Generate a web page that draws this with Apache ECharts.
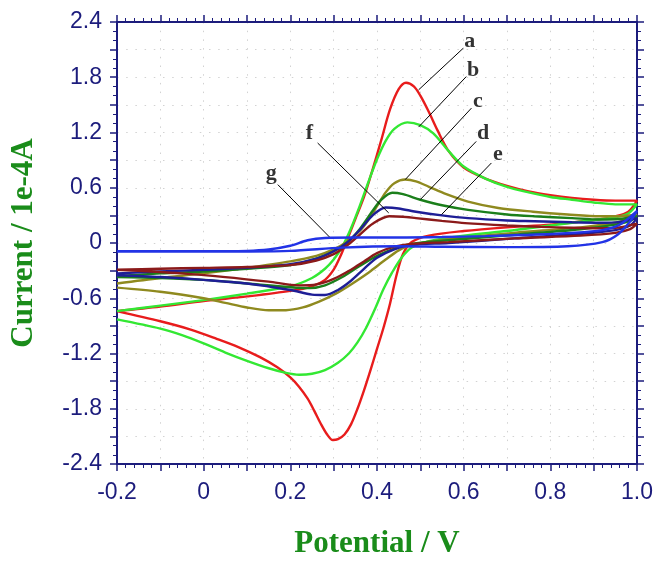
<!DOCTYPE html>
<html>
<head>
<meta charset="utf-8">
<script src="https://cdn.jsdelivr.net/npm/echarts@6/dist/echarts.min.js"></script>
<style>html,body{margin:0;padding:0;background:#fff}#c{width:664px;height:564px}</style>
</head>
<body>
<div id="c"></div>
<script>
// ---- data (Potential V, Current 1e-4 A) ----
const aFwd = [[-0.2,-0.74],[-0.1,-0.69],[0.0,-0.63],[0.1,-0.58],[0.2,-0.52],[0.25,-0.47],[0.28,-0.40],[0.30,-0.29],[0.315,-0.15],[0.33,0.02],[0.35,0.26],[0.37,0.50],[0.39,0.80],[0.41,1.12],[0.43,1.45],[0.45,1.67],[0.467,1.74],[0.485,1.70],[0.50,1.60],[0.52,1.42],[0.54,1.22],[0.565,1.0],[0.60,0.82],[0.65,0.70],[0.70,0.62],[0.75,0.56],[0.80,0.52],[0.85,0.49],[0.90,0.47],[0.95,0.46],[1.0,0.46]];
const aRev = [[1.0,0.46],[0.98,0.34],[0.95,0.29],[0.9,0.25],[0.8,0.20],[0.7,0.17],[0.6,0.13],[0.52,0.08],[0.48,0.01],[0.46,-0.12],[0.445,-0.35],[0.43,-0.66],[0.415,-0.92],[0.40,-1.15],[0.385,-1.38],[0.37,-1.60],[0.355,-1.80],[0.34,-1.97],[0.325,-2.08],[0.31,-2.13],[0.298,-2.14],[0.285,-2.08],[0.27,-1.96],[0.255,-1.82],[0.24,-1.69],[0.22,-1.56],[0.2,-1.46],[0.17,-1.35],[0.13,-1.24],[0.08,-1.13],[0.03,-1.04],[-0.03,-0.94],[-0.1,-0.85],[-0.2,-0.74]];
const bFwd = [[-0.2,-0.74],[-0.1,-0.68],[0.0,-0.62],[0.1,-0.55],[0.2,-0.47],[0.25,-0.38],[0.28,-0.28],[0.30,-0.18],[0.32,-0.04],[0.34,0.16],[0.36,0.40],[0.38,0.66],[0.40,0.91],[0.42,1.11],[0.44,1.24],[0.47,1.31],[0.50,1.28],[0.53,1.19],[0.565,1.0],[0.60,0.83],[0.65,0.70],[0.70,0.61],[0.75,0.55],[0.80,0.50],[0.85,0.47],[0.90,0.44],[0.95,0.42],[1.0,0.42]];
const bRev = [[1.0,0.42],[0.98,0.32],[0.95,0.28],[0.9,0.25],[0.8,0.19],[0.7,0.13],[0.6,0.08],[0.52,0.02],[0.48,-0.05],[0.455,-0.17],[0.435,-0.32],[0.415,-0.50],[0.395,-0.72],[0.375,-0.92],[0.355,-1.08],[0.335,-1.20],[0.31,-1.30],[0.28,-1.38],[0.25,-1.42],[0.22,-1.43],[0.19,-1.41],[0.15,-1.36],[0.1,-1.28],[0.05,-1.19],[0.0,-1.09],[-0.05,-1.0],[-0.1,-0.93],[-0.2,-0.83]];
const cFwd = [[-0.2,-0.44],[-0.1,-0.38],[0.0,-0.33],[0.1,-0.27],[0.2,-0.20],[0.26,-0.14],[0.30,-0.07],[0.33,0.01],[0.36,0.13],[0.38,0.25],[0.40,0.40],[0.42,0.55],[0.44,0.65],[0.465,0.69],[0.49,0.67],[0.52,0.61],[0.56,0.53],[0.61,0.45],[0.68,0.38],[0.76,0.34],[0.84,0.31],[0.915,0.29],[0.96,0.29],[1.0,0.31]];
const cRev = [[1.0,0.31],[0.984,0.27],[0.95,0.22],[0.87,0.17],[0.717,0.11],[0.565,0.04],[0.48,-0.02],[0.45,-0.08],[0.42,-0.18],[0.381,-0.32],[0.34,-0.45],[0.305,-0.55],[0.265,-0.64],[0.229,-0.70],[0.19,-0.73],[0.15,-0.73],[0.1,-0.70],[0.05,-0.65],[0.0,-0.60],[-0.1,-0.53],[-0.2,-0.485]];
const dFwd = [[-0.2,-0.36],[-0.1,-0.33],[0.0,-0.31],[0.1,-0.28],[0.2,-0.24],[0.26,-0.17],[0.30,-0.09],[0.33,0.0],[0.36,0.15],[0.39,0.35],[0.41,0.47],[0.435,0.545],[0.46,0.53],[0.50,0.47],[0.55,0.41],[0.61,0.36],[0.70,0.31],[0.763,0.29],[0.85,0.27],[0.915,0.255],[0.96,0.26],[1.0,0.29]];
const dRev = [[1.0,0.29],[0.984,0.24],[0.95,0.20],[0.87,0.15],[0.717,0.09],[0.565,0.03],[0.48,-0.01],[0.44,-0.06],[0.40,-0.14],[0.36,-0.25],[0.32,-0.37],[0.28,-0.46],[0.245,-0.49],[0.2,-0.48],[0.1,-0.44],[0.0,-0.40],[-0.1,-0.38],[-0.2,-0.37]];
const eFwd = [[-0.2,-0.33],[-0.1,-0.31],[0.0,-0.29],[0.1,-0.27],[0.2,-0.23],[0.26,-0.17],[0.30,-0.09],[0.33,0.0],[0.36,0.14],[0.39,0.30],[0.42,0.385],[0.45,0.375],[0.49,0.34],[0.55,0.30],[0.61,0.27],[0.70,0.245],[0.763,0.237],[0.85,0.225],[0.915,0.22],[0.96,0.23],[1.0,0.27]];
const eRev = [[1.0,0.27],[0.984,0.19],[0.95,0.14],[0.87,0.10],[0.717,0.05],[0.565,0.0],[0.48,-0.02],[0.44,-0.07],[0.40,-0.16],[0.37,-0.28],[0.34,-0.41],[0.31,-0.51],[0.28,-0.565],[0.25,-0.56],[0.2,-0.51],[0.1,-0.44],[0.0,-0.40],[-0.1,-0.37],[-0.2,-0.35]];
const fFwd = [[-0.2,-0.29],[-0.1,-0.28],[0.0,-0.27],[0.1,-0.26],[0.2,-0.24],[0.26,-0.19],[0.30,-0.12],[0.33,-0.03],[0.36,0.09],[0.39,0.21],[0.428,0.29],[0.46,0.285],[0.49,0.27],[0.55,0.24],[0.603,0.216],[0.70,0.19],[0.778,0.175],[0.85,0.165],[0.915,0.16],[0.96,0.17],[1.0,0.21]];
const fRev = [[1.0,0.21],[0.984,0.15],[0.95,0.11],[0.87,0.08],[0.717,0.05],[0.565,0.01],[0.48,-0.01],[0.44,-0.04],[0.40,-0.11],[0.37,-0.20],[0.34,-0.29],[0.30,-0.39],[0.26,-0.45],[0.22,-0.46],[0.15,-0.42],[0.05,-0.37],[-0.05,-0.33],[-0.2,-0.29]];
const gFwd = [[-0.2,-0.09],[0.0,-0.09],[0.1,-0.085],[0.15,-0.07],[0.2,-0.03],[0.24,0.03],[0.28,0.055],[0.35,0.06],[0.45,0.06],[0.55,0.065],[0.65,0.075],[0.75,0.09],[0.85,0.11],[0.92,0.14],[0.96,0.2],[1.0,0.35]];
const gRev = [[1.0,0.35],[0.985,0.24],[0.955,0.09],[0.92,0.01],[0.84,-0.035],[0.7,-0.045],[0.55,-0.04],[0.45,-0.035],[0.32,-0.05],[0.2,-0.085],[0.1,-0.092],[-0.2,-0.094]];

const curveNames = ['a','b','c','d','e','f','g'];
const curveColors = ['#e81c1c','#33e833','#8f8a1f','#1b7f1b','#1e1e96','#8b1a1a','#2233e6'];
const curveLoops = [[aFwd,aRev],[bFwd,bRev],[cFwd,cRev],[dFwd,dRev],[eFwd,eRev],[fFwd,fRev],[gFwd,gRev]];

// annotation letters and leader lines (data coordinates)
const letterNames = ['a','b','c','d','e','f','g'];
const letterPos = [[0.614,2.187],[0.622,1.880],[0.633,1.537],[0.645,1.194],[0.679,0.959],[0.244,1.194],[0.156,0.761]];
const leaderFrom = [[0.599,2.115],[0.606,1.807],[0.618,1.465],[0.629,1.103],[0.664,0.869],[0.263,1.086],[0.171,0.634]];
const leaderTo = [[0.496,1.663],[0.496,1.259],[0.465,0.688],[0.50,0.472],[0.549,0.309],[0.427,0.327],[0.29,0.067]];

const xTicks = {min:-0.2, max:1.0, interval:0.1};
const yTicks = {min:-2.4, max:2.4, interval:0.3};

const AXIS = '#1c1c7c';
const GREEN = '#1a8c1a';
const labelFont = "'Liberation Sans',Arial,sans-serif";
const nameFont = "'Liberation Serif','Times New Roman',serif";

function xFmt(v){ const k=Math.round(v*10); if (k%2!==0) return ''; return k===0?'0':(k/10).toFixed(1); }
function yFmt(v){ const k=Math.round(v*10); if (k%6!==0) return ''; return k===0?'0':(k/10).toFixed(1); }

const baseAxis = {
  axisLine:{show:true,onZero:false,lineStyle:{color:AXIS,width:2}},
  axisTick:{show:true,inside:false,length:7,lineStyle:{color:AXIS,width:1.5}}
};

const chart = echarts.init(document.getElementById('c'));
const series = curveLoops.map((loop,i)=>({
  type:'line', name:curveNames[i], xAxisIndex:0, yAxisIndex:0,
  data: loop[0].concat(loop[1].slice(1)),
  showSymbol:false, smooth:0.3, z:3,
  lineStyle:{color:curveColors[i],width:2.4}, itemStyle:{color:curveColors[i]},
  silent:true
}));
series.push({
  type:'scatter', xAxisIndex:0, yAxisIndex:0, symbolSize:1, z:5,
  itemStyle:{color:'rgba(0,0,0,0)'},
  data: letterNames.map((n,i)=>({name:n,value:letterPos[i]})),
  label:{show:true,position:'inside',formatter:'{b}',color:'#000',fontFamily:nameFont,fontWeight:'bold',fontSize:22},
  markLine:{silent:true,symbol:['none','none'],label:{show:false},
    lineStyle:{color:'#000',width:1,type:'solid'},
    data: leaderFrom.map((p,i)=>[{coord:p},{coord:leaderTo[i]}])}
});

chart.setOption({
  animation:false,
  backgroundColor:'#fff',
  grid:{left:112,right:27,top:22,bottom:99,containLabel:false},
  xAxis:[
    Object.assign({type:'value',position:'bottom'},xTicks,baseAxis,{
      minorTick:{show:true,splitNumber:5,length:4,lineStyle:{color:AXIS,width:1}},
      axisLabel:{formatter:xFmt,color:AXIS,fontFamily:labelFont,fontSize:23,margin:17,showMinLabel:true,showMaxLabel:true},
      splitLine:{show:true,lineStyle:{color:'#d2d2d2',width:1,type:[1.5,7.2]}},
      name:'Potential / V',nameLocation:'middle',nameGap:64,
      nameTextStyle:{color:GREEN,fontFamily:nameFont,fontWeight:'bold',fontSize:31}
    }),
    Object.assign({type:'value',position:'top'},xTicks,baseAxis,{
      minorTick:{show:true,splitNumber:5,length:4,lineStyle:{color:AXIS,width:1}},
      axisLabel:{show:false},splitLine:{show:false}
    })
  ],
  yAxis:[
    Object.assign({type:'value',position:'left'},yTicks,baseAxis,{
      minorTick:{show:true,splitNumber:3,length:4,lineStyle:{color:AXIS,width:1}},
      axisLabel:{formatter:yFmt,color:AXIS,fontFamily:labelFont,fontSize:23,margin:15,showMinLabel:true,showMaxLabel:true},
      splitLine:{show:true,lineStyle:{color:'#d2d2d2',width:1,type:[1.5,7.7]}},
      name:'Current / 1e-4A',nameLocation:'middle',nameGap:78,nameRotate:90,
      nameTextStyle:{color:GREEN,fontFamily:nameFont,fontWeight:'bold',fontSize:31}
    }),
    Object.assign({type:'value',position:'right'},yTicks,baseAxis,{
      minorTick:{show:true,splitNumber:3,length:4,lineStyle:{color:AXIS,width:1}},
      axisLabel:{show:false},splitLine:{show:false}
    })
  ],
  series: series
});
</script>
</body>
</html>
